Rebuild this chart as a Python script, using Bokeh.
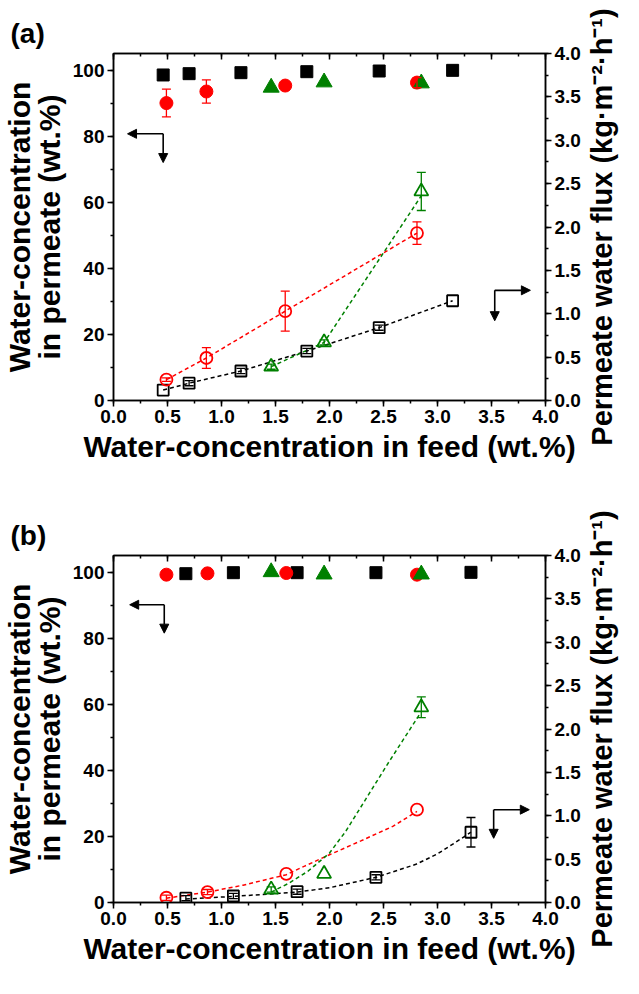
from bokeh.plotting import figure
from bokeh.models import (Range1d, LinearAxis, Arrow, NormalHead, Whisker, Title,
                          ColumnDataSource, TeeHead, SingleIntervalTicker,
                          PrintfTickFormatter, CustomJSTickFormatter)
from bokeh.layouts import column, row
from bokeh.embed import file_html
from bokeh.resources import INLINE

FONT = "Liberation Sans"

# ---------------- Panel (a) data ----------------
a_sq_x = [0.46, 0.70, 1.18, 1.79, 2.46, 3.14]
a_sq_perm = [98.5, 98.9, 99.2, 99.5, 99.7, 99.9]
a_sq_flux = [0.12, 0.20, 0.34, 0.57, 0.84, 1.15]
a_sq_flux_err = [0.0, 0.03, 0.03, 0.03, 0.03, 0.0]

a_ci_x = [0.49, 0.86, 1.59, 2.81]
a_ci_perm = [90.0, 93.5, 95.3, 96.2]
a_ci_perm_err = [4.2, 3.5, 0.0, 1.5]
a_ci_flux = [0.24, 0.49, 1.03, 1.93]
a_ci_flux_err = [0.02, 0.12, 0.23, 0.13]

a_tr_x = [1.46, 1.95, 2.85]
a_tr_perm = [94.7, 96.3, 96.0]
a_tr_flux = [0.39, 0.67, 2.41]
a_tr_flux_err = [0.03, 0.03, 0.22]

# dashed fit curves (a)
a_fit_sq_x = [0.46, 0.70, 1.18, 1.79, 2.46, 3.14]
a_fit_sq_y = [0.12, 0.20, 0.34, 0.57, 0.84, 1.15]
a_fit_ci_x = [0.49, 0.86, 1.59, 2.81]
a_fit_ci_y = [0.24, 0.49, 1.03, 1.93]
a_fit_tr_x = [1.46, 1.95, 2.85]
a_fit_tr_y = [0.39, 0.67, 2.36]

# ---------------- Panel (b) data ----------------
b_sq_x = [0.67, 1.11, 1.70, 2.43, 3.31]
b_sq_perm = [99.5, 99.8, 99.8, 99.8, 99.9]
b_sq_flux = [0.05, 0.075, 0.125, 0.29, 0.81]
b_sq_flux_err = [0.03, 0.03, 0.03, 0.03, 0.17]

b_ci_x = [0.49, 0.87, 1.60, 2.81]
b_ci_perm = [99.2, 99.6, 99.7, 99.2]
b_ci_flux = [0.055, 0.12, 0.33, 1.07]
b_ci_flux_err = [0.03, 0.03, 0.0, 0.0]

b_tr_x = [1.46, 1.95, 2.85]
b_tr_perm = [100.0, 99.3, 99.3]
b_tr_flux = [0.15, 0.33, 2.25]
b_tr_flux_err = [0.03, 0.0, 0.12]

b_fit_sq_x = [0.67, 1.11, 1.70, 2.00, 2.43, 2.80, 3.00, 3.15, 3.31]
b_fit_sq_y = [0.04, 0.07, 0.12, 0.17, 0.29, 0.44, 0.56, 0.68, 0.81]
b_fit_ci_x = [0.49, 0.87, 1.20, 1.60, 1.77, 2.00, 2.29, 2.59, 2.81]
b_fit_ci_y = [0.05, 0.12, 0.20, 0.32, 0.42, 0.55, 0.71, 0.88, 1.05]
b_fit_tr_x = [1.46, 1.62, 1.80, 2.00, 2.15, 2.25, 2.55, 2.84]
b_fit_tr_y = [0.12, 0.22, 0.36, 0.57, 0.82, 1.02, 1.62, 2.18]

X_TITLE = "Water-concentration in feed (wt.%)"
Y_TITLE = "Water-concentration\nin permeate (wt.%)"
Y2_TITLE = "Permeate water flux (kg\u00b7m\u207b\u00b2\u00b7h\u207b\u00b9)"

BLACK = "#000000"
RED = "#FF0000"
GREEN = "#008000"

MAIN_W = 583
SIDE_W = 40


def add_errors(p, xs, ys, errs, color, range_name="default"):
    base, up, lo = [], [], []
    for x, y, e in zip(xs, ys, errs):
        if e > 0:
            base.append(x)
            up.append(y + e)
            lo.append(y - e)
    if not base:
        return
    src = ColumnDataSource(dict(base=base, upper=up, lower=lo))
    w = Whisker(source=src, base="base", upper="upper", lower="lower",
                dimension="height", line_color=color, line_width=1.3,
                y_range_name=range_name, level="glyph",
                upper_head=TeeHead(size=9, line_color=color, line_width=1.3),
                lower_head=TeeHead(size=9, line_color=color, line_width=1.3))
    p.add_layout(w)


def make_side(height, top, bottom):
    # narrow companion figure that carries the right-hand axis title (reads upward)
    s = figure(width=SIDE_W, height=height, x_range=Range1d(0, 1), y_range=Range1d(0, 1),
               output_backend="svg", toolbar_location=None,
               x_axis_type=None, y_axis_type=None,
               min_border_left=0, min_border_right=0,
               min_border_top=top, min_border_bottom=bottom)
    s.outline_line_color = None
    s.xgrid.visible = False
    s.ygrid.visible = False
    s.title.text = ""
    s.add_layout(Title(text=Y2_TITLE, align="center", text_font=FONT,
                       text_font_style="bold", text_font_size="29px",
                       text_color="black", standoff=0, offset=0), "left")
    return s


def make_panel(tag, height, top, bottom, d, arrows):
    p = figure(width=MAIN_W, height=height, x_range=Range1d(0, 4), y_range=Range1d(0, 105),
               output_backend="svg", toolbar_location=None,
               min_border_left=109, min_border_right=MAIN_W - 109 - 437,
               min_border_top=top, min_border_bottom=bottom)
    p.extra_y_ranges = {"flux": Range1d(0, 4)}
    p.xgrid.visible = False
    p.ygrid.visible = False
    p.outline_line_color = "black"
    p.outline_line_width = 1.5
    p.background_fill_color = "white"
    p.border_fill_color = "white"

    # panel tag "(a)" / "(b)"
    p.title.text = tag
    p.title.align = "left"
    p.title.offset = -103
    p.title.standoff = 10
    p.title.text_font = FONT
    p.title.text_font_style = "bold"
    p.title.text_font_size = "28px"
    p.title.text_color = "black"

    def style(ax):
        ax.axis_line_width = 1.5
        ax.major_tick_line_width = 1.5
        ax.minor_tick_line_width = 1.5
        ax.major_label_text_font = FONT
        ax.major_label_text_font_style = "bold"
        ax.major_label_text_font_size = "19px"
        ax.major_label_text_color = "black"
        ax.axis_label_text_font = FONT
        ax.axis_label_text_font_style = "bold"
        ax.axis_label_text_font_size = "30px"
        ax.axis_label_text_color = "black"
        ax.major_tick_out = 6
        ax.major_tick_in = 0
        ax.minor_tick_out = 3
        ax.minor_tick_in = 0
        ax.major_label_standoff = 3

    xa = p.xaxis[0]
    style(xa)
    xa.ticker = SingleIntervalTicker(interval=0.5, num_minor_ticks=2)
    xa.formatter = PrintfTickFormatter(format="%.1f")
    xa.axis_label = X_TITLE
    xa.axis_label_standoff = 4

    ya = p.yaxis[0]
    style(ya)
    ya.ticker = SingleIntervalTicker(interval=20, num_minor_ticks=2)
    ya.axis_label = Y_TITLE
    ya.axis_label_text_line_height = 0.9
    ya.axis_label_standoff = 4

    ra = LinearAxis(y_range_name="flux")
    style(ra)
    ra.ticker = SingleIntervalTicker(interval=0.5, num_minor_ticks=2)
    ra.formatter = PrintfTickFormatter(format="%.1f")
    p.add_layout(ra, "right")

    ta = LinearAxis()
    style(ta)
    ta.ticker = SingleIntervalTicker(interval=0.5, num_minor_ticks=2)
    ta.formatter = CustomJSTickFormatter(code="return ''")
    ta.major_tick_out = 0
    ta.major_tick_in = 6
    ta.minor_tick_out = 0
    ta.minor_tick_in = 3
    ta.major_label_standoff = 0
    p.add_layout(ta, "above")

    # dashed fitted curves
    for fx, fy, c in d["fits"]:
        p.line(fx, fy, line_color=c, line_width=1.5, line_dash="4 3", y_range_name="flux")

    # error bars
    for xs, ys, errs, c, rn in d["errs"]:
        add_errors(p, xs, ys, errs, c, rn)

    sqx, sqp, sqf = d["sq"]
    cix, cip, cif = d["ci"]
    trx, trp, trf = d["tr"]

    # open markers: flux (right axis)
    p.scatter(sqx, sqf, marker="square", size=11, fill_color=None, line_color=BLACK,
              line_width=1.8, y_range_name="flux")
    p.scatter(cix, cif, marker="circle", size=12, fill_color=None, line_color=RED,
              line_width=1.8, y_range_name="flux")
    p.scatter(trx, trf, marker="triangle", size=14, fill_color=None, line_color=GREEN,
              line_width=1.8, y_range_name="flux")

    # filled markers: permeate concentration (left axis)
    p.scatter(sqx, sqp, marker="square", size=12, fill_color=BLACK, line_color=BLACK)
    p.scatter(cix, cip, marker="circle", size=13, fill_color=RED, line_color=RED)
    p.scatter(trx, trp, marker="triangle", size=16, fill_color=GREEN, line_color=GREEN)

    # direction arrows
    for (x0, y0, x1, y1, rn) in arrows:
        p.add_layout(Arrow(end=NormalHead(size=9, fill_color="black", line_color="black"),
                           x_start=x0, y_start=y0, x_end=x1, y_end=y1,
                           line_width=1.6, line_color="black", y_range_name=rn))
    return p


da = dict(
    sq=(a_sq_x, a_sq_perm, a_sq_flux),
    ci=(a_ci_x, a_ci_perm, a_ci_flux),
    tr=(a_tr_x, a_tr_perm, a_tr_flux),
    fits=[(a_fit_sq_x, a_fit_sq_y, BLACK), (a_fit_ci_x, a_fit_ci_y, RED),
          (a_fit_tr_x, a_fit_tr_y, GREEN)],
    errs=[(a_ci_x, a_ci_perm, a_ci_perm_err, RED, "default"),
          (a_sq_x, a_sq_flux, a_sq_flux_err, BLACK, "flux"),
          (a_ci_x, a_ci_flux, a_ci_flux_err, RED, "flux"),
          (a_tr_x, a_tr_flux, a_tr_flux_err, GREEN, "flux")],
)
db = dict(
    sq=(b_sq_x, b_sq_perm, b_sq_flux),
    ci=(b_ci_x, b_ci_perm, b_ci_flux),
    tr=(b_tr_x, b_tr_perm, b_tr_flux),
    fits=[(b_fit_sq_x, b_fit_sq_y, BLACK), (b_fit_ci_x, b_fit_ci_y, RED),
          (b_fit_tr_x, b_fit_tr_y, GREEN)],
    errs=[(b_sq_x, b_sq_flux, b_sq_flux_err, BLACK, "flux"),
          (b_ci_x, b_ci_flux, b_ci_flux_err, RED, "flux"),
          (b_tr_x, b_tr_flux, b_tr_flux_err, GREEN, "flux")],
)

arrows_a = [(0.46, 80.7, 0.13, 80.7, "default"), (0.46, 80.7, 0.46, 72.0, "default"),
            (3.53, 1.27, 3.86, 1.27, "flux"), (3.53, 1.27, 3.53, 0.92, "flux")]
arrows_b = [(0.47, 90.1, 0.15, 90.1, "default"), (0.47, 90.1, 0.47, 81.5, "default"),
            (3.52, 1.07, 3.85, 1.07, "flux"), (3.52, 1.07, 3.52, 0.74, "flux")]

HA, TA, BA = 495, 53, 95
HB, TB, BB = 482, 60, 75

pa = make_panel("(a)", HA, TA, BA, da, arrows_a)
sa = make_side(HA, TA, BA)
pb = make_panel("(b)", HB, TB, BB, db, arrows_b)
sb = make_side(HB, TB, BB)

layout = column(row(pa, sa, spacing=0), row(pb, sb, spacing=0), spacing=0)
open("out.html", "w").write(file_html(layout, INLINE))
